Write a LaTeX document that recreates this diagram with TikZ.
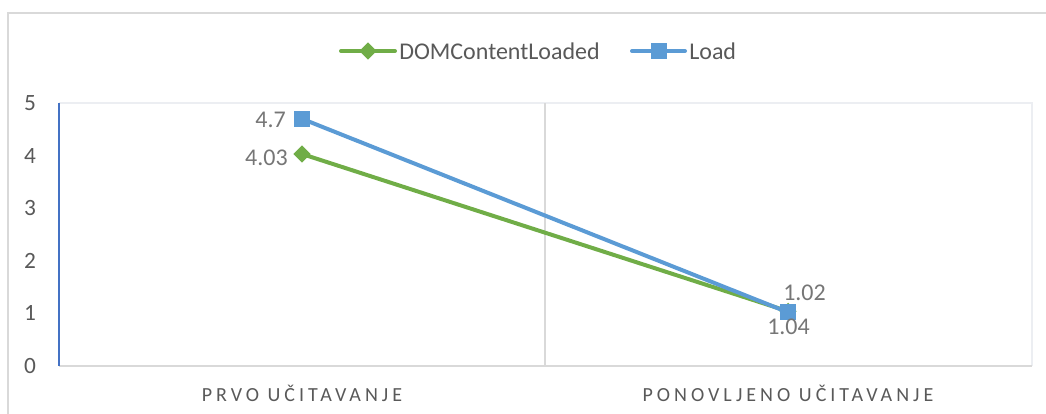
\documentclass[tikz,border=0pt]{standalone}
\usepackage{fontspec}
\setmainfont{Carlito}
\newfontfamily\catfont[LetterSpace=20]{Carlito}
\definecolor{domgreen}{RGB}{112,173,71}
\definecolor{loadblue}{RGB}{91,155,213}
\definecolor{axisblue}{RGB}{68,114,196}
\definecolor{framegray}{RGB}{217,217,217}
\definecolor{gridgray}{RGB}{236,238,242}
\definecolor{textgray}{RGB}{89,89,89}
\definecolor{valgray}{RGB}{118,118,118}
\tikzset{
  series/.style={line width=3pt, line cap=round},
  greenmark/.style={diamond, fill=domgreen, inner sep=0pt, minimum size=13pt},
  bluemark/.style={rectangle, fill=loadblue, inner sep=0pt, minimum size=12pt},
  ticklabel/.style={text=textgray, font=\fontsize{17.5}{20}\selectfont},
  vallabel/.style={text=valgray, font=\fontsize{18}{20}\selectfont, inner sep=0pt},
  catlabel/.style={text=textgray, font=\catfont\fontsize{15}{18}\selectfont}
}
\usetikzlibrary{shapes.geometric}
\begin{document}
\begin{tikzpicture}[x=0.75pt,y=-0.75pt]
  \useasboundingbox (0,0) rectangle (1046,414);
  % frame and plot area
  \draw[framegray, line width=1.5pt] (8,420) -- (8,13) -- (1050,13);
  \draw[gridgray, line width=1pt] (59,103) -- (1032,103) -- (1032,366);
  \draw[framegray, line width=1pt] (545,103) -- (545,366);
  \draw[framegray, line width=1.5pt] (59,366) -- (1032,366);
  \draw[axisblue, line width=1pt] (59,103) -- (59,366);
  % y ticks
  \foreach \v in {0,...,5}
    \node[ticklabel] (y\v) at (30,366-52.6*\v) {\v};
  % categories
  \node[catlabel] (c1) at (302,393) {PRVO UČITAVANJE};
  \node[catlabel] (c2) at (788,393) {PONOVLJENO UČITAVANJE};
  % data points
  \coordinate (d1) at (302,154);
  \coordinate (d2) at (788,311.3);
  \coordinate (l1) at (302,118.8);
  \coordinate (l2) at (788,312.3);
  \begin{scope}[series]
    \draw[domgreen] (d1) -- (d2);
    \draw[loadblue] (l1) -- (l2);
  \end{scope}
  \node[greenmark] (gd1) at (d1) {};
  \node[greenmark] (gd2) at (d2) {};
  \node[bluemark] (bl1) at (l1) {};
  \node[bluemark] (bl2) at (l2) {};
  % value labels
  \node[vallabel, anchor=east] (v1) at (286,120) {4.7};
  \node[vallabel, anchor=east] (v2) at (288,158) {4.03};
  \node[vallabel, anchor=west] (v3) at (783,293) {1.02};
  \node[vallabel, anchor=west] (v4) at (767,327) {1.04};
  % legend
  \coordinate (ga) at (341,51);
  \coordinate (gb) at (395,51);
  \coordinate (ba) at (632,51);
  \coordinate (bb) at (685,51);
  \draw[series, domgreen] (ga) -- (gb);
  \draw[series, loadblue] (ba) -- (bb);
  \node[greenmark] (gm) at (368,51) {};
  \node[bluemark] (bm) at (659,51) {};
  \node[ticklabel, anchor=west, inner sep=0pt, font=\fontsize{18}{20}\selectfont] (lg1) at (399,51) {DOMContentLoaded};
  \node[ticklabel, anchor=west, inner sep=0pt, font=\fontsize{18}{20}\selectfont] (lg2) at (689,51) {Load};
\end{tikzpicture}
\end{document}
